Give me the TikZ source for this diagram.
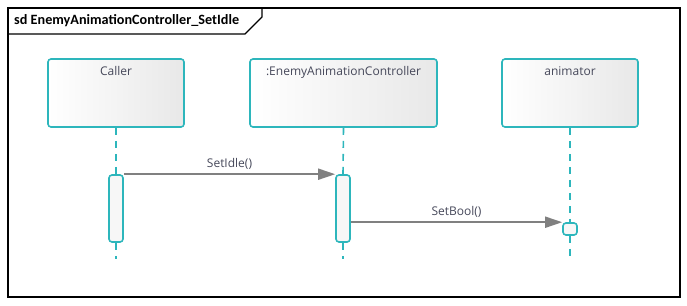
\documentclass[tikz,border=0pt]{standalone}
\usepackage{fontspec}
\setmainfont{Open Sans}
\newfontfamily\titlefont{Carlito}
\usetikzlibrary{arrows.meta}

\definecolor{lifeteal}{RGB}{45,182,188}
\definecolor{msggray}{RGB}{128,128,128}
\definecolor{labelgray}{RGB}{70,72,90}

\begin{document}
\begin{tikzpicture}[
  x=1pt, y=-1pt, >={Triangle[length=17pt, width=11pt]},
  lifebox/.style={draw=lifeteal, line width=1.6pt, rounded corners=3pt,
                  left color=white, right color=black!9, shading angle=90,
                  minimum height=68pt, text depth=50pt, text height=14pt,
                  font=\fontsize{12}{14}\selectfont, text=labelgray, inner sep=0pt},
  actbar/.style={draw=lifeteal, line width=1.6pt, rounded corners=3pt,
                 fill=black!3, minimum width=14pt, inner sep=0pt},
  lifeline/.style={draw=lifeteal, line width=1.6pt, dash pattern=on 7pt off 6pt},
  msg/.style={draw=msggray, line width=1.8pt, ->},
  msglbl/.style={font=\fontsize{12}{14}\selectfont, text=labelgray, inner sep=1pt}]
\useasboundingbox (0,0) rectangle (687,305);

% frame with the sd tab
\draw[line width=1.8pt] (8,8) rectangle (680,297);
\draw[line width=1.4pt] (8,34) -- (245,34) -- (262,17) -- (262,8);
\node[font=\titlefont\bfseries\fontsize{14.2}{16}\selectfont, anchor=west, inner sep=0pt]
  (title) at (14,21) {sd EnemyAnimationController\_SetIdle};

% lifeline heads
\node[lifebox, minimum width=136pt] (caller) at (116,93) {Caller};
\node[lifebox, minimum width=187pt] (ctrl)   at (343.5,93) {:EnemyAnimationController};
\node[lifebox, minimum width=136pt] (anim)   at (570,93) {animator};

% activations
\node[actbar, minimum height=67pt] (cbar) at (116,208.5) {};
\node[actbar, minimum height=67pt] (ebar) at (343,208.5) {};
\node[actbar, minimum width=14pt, minimum height=12pt] (abar) at (570,229) {};

\coordinate (cend) at (116,259);
\coordinate (eend) at (343,259);
\coordinate (aend) at (570,259);

\foreach \a/\b/\c in {caller/cbar/cend, ctrl/ebar/eend, anim/abar/aend} {
  \draw[lifeline] (\a.south) -- (\b.north);
  \draw[lifeline] (\b.south) -- (\c);
}

% messages
\draw[msg] (cbar.north east) -- (ebar.north west)
  node[msglbl, midway, above=3pt] {SetIdle()};
\draw[msg] (abar.north west -| ebar.east) -- (abar.north west)
  node[msglbl, midway, above=3pt] {SetBool()};
\end{tikzpicture}
\end{document}
